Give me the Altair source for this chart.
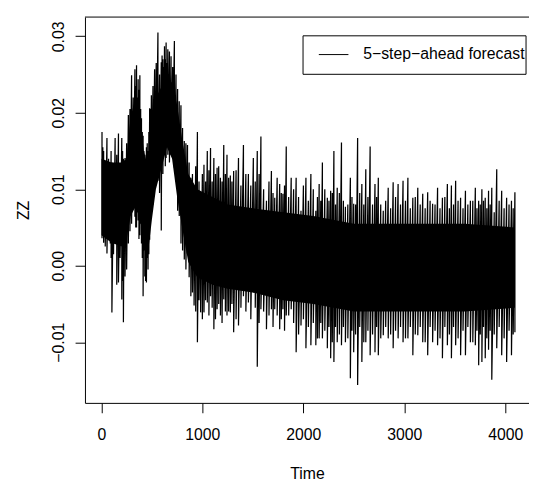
import altair as alt
import pandas as pd

# ---- data (values of ZZ) ----
# main spike columns: extreme high / low read around each time
col_time = [6, 22, 55, 88, 104, 136, 169, 202, 218, 234, 267, 299, 332, 348, 364, 381, 397, 413, 430, 446,
            462, 478, 495, 527, 560, 593, 609, 625, 641, 658, 690, 723, 755, 788, 821, 853, 886, 918, 951, 983,
            1016, 1049, 1081, 1114, 1146, 1179, 1212,
            1244, 1277, 1310, 1358, 1407, 1456, 1505, 1544, 1580, 1635, 1684, 1717, 1766, 1798, 1831, 1880, 1929,
            1977, 2026, 2075, 2124, 2157, 2189, 2238, 2271, 2303, 2336, 2378, 2417, 2466, 2499, 2538, 2580, 2619,
            2662, 2710,
            2743, 2792, 2841, 2890, 2939, 2988, 3036, 3085, 3134, 3183, 3232, 3281, 3330, 3378, 3427, 3467, 3509,
            3558, 3606, 3655, 3704, 3737, 3769, 3802, 3835, 3867, 3916, 3965, 4014, 4062, 4096]

col_high = [0.0175, 0.0150, 0.0167, 0.0128, 0.0135, 0.0167, 0.0173, 0.0167, 0.0140, 0.0141, 0.0197, 0.0249,
            0.0257, 0.0262, 0.0244, 0.0249, 0.0193, 0.0170, 0.0145, 0.0155, 0.0150, 0.0206, 0.0223, 0.0257,
            0.0305, 0.0266, 0.0270, 0.0287, 0.0292, 0.0283, 0.0274, 0.0294, 0.0231, 0.0210, 0.0163, 0.0158,
            0.0115, 0.0102, 0.0175, 0.0094, 0.0132, 0.0150, 0.0154, 0.0141, 0.0128, 0.0115, 0.0158,
            0.0145, 0.0118, 0.0124, 0.0141, 0.0158, 0.0120, 0.0141, 0.0150, 0.0169, 0.0085, 0.0124, 0.0089,
            0.0107, 0.0094, 0.0156, 0.0115, 0.0115, 0.0072, 0.0115, 0.0120, 0.0072, 0.0107, 0.0135, 0.0089,
            0.0098, 0.0150, 0.0102, 0.0161, 0.0077, 0.0115, 0.0081, 0.0167, 0.0107, 0.0126, 0.0156, 0.0107,
            0.0115, 0.0072, 0.0102, 0.0109, 0.0107, 0.0111, 0.0115, 0.0089, 0.0102, 0.0094, 0.0096, 0.0081,
            0.0102, 0.0089, 0.0107, 0.0105, 0.0111, 0.0089, 0.0098, 0.0085, 0.0102, 0.0085, 0.0100, 0.0089,
            0.0098, 0.0102, 0.0126, 0.0098, 0.0089, 0.0085, 0.0096]

col_low = [0.0036, 0.0030, 0.0016, 0.0029, -0.0061, 0.0029, -0.0022, -0.0044, -0.0074, -0.0014, 0.0029, 0.0055,
           0.0064, 0.0050, 0.0059, 0.0040, 0.0029, -0.0040, -0.0014, -0.0022, -0.0005, 0.0034, 0.0089, 0.0102,
           0.0111, 0.0046, 0.0120, 0.0145, 0.0141, 0.0145, 0.0145, 0.0128, 0.0072, 0.0029, 0.0008, 0.0016,
           -0.0040, -0.0052, -0.0100, -0.0061, -0.0061, -0.0048, -0.0040, -0.0083, -0.0057, -0.0065, -0.0044,
           -0.0065, -0.0061, -0.0087, -0.0078, -0.0040, -0.0048, -0.0035, -0.0132, -0.0057, -0.0083, -0.0057,
           -0.0057, -0.0083, -0.0057, -0.0065, -0.0057, -0.0113, -0.0078, -0.0108, -0.0104, -0.0104, -0.0095,
           -0.0095, -0.0108, -0.0121, -0.0126, -0.0100, -0.0104, -0.0100, -0.0147, -0.0113, -0.0156, -0.0126,
           -0.0100, -0.0117, -0.0113,
           -0.0117, -0.0091, -0.0095, -0.0108, -0.0095, -0.0100, -0.0095, -0.0117, -0.0091, -0.0100, -0.0117,
           -0.0100, -0.0104, -0.0121, -0.0104, -0.0121, -0.0104, -0.0117, -0.0117, -0.0100, -0.0104, -0.0130,
           -0.0126, -0.0121, -0.0110, -0.0149, -0.0108, -0.0117, -0.0126, -0.0117, -0.0087]

# secondary (shorter) spikes between the main ones, just outside the dense core
mid_time = [14, 38, 71, 96, 120, 152, 185, 210, 226, 250, 283, 315, 340, 356, 372, 389, 405, 421, 438, 454,
            470, 486, 511, 543, 576, 601, 617, 633, 649, 674, 706, 739, 771, 804, 837, 869, 902, 934, 967, 1000,
            1032, 1065, 1097, 1130, 1162, 1195, 1228,
            1260, 1293, 1334, 1382, 1431, 1480, 1524, 1562, 1607, 1660, 1700, 1741, 1782, 1814, 1855, 1904, 1953,
            2001, 2050, 2099, 2140, 2173, 2213, 2254, 2287, 2319, 2357, 2397, 2441, 2482, 2518, 2559, 2599, 2640,
            2686, 2726,
            2767, 2816, 2865, 2914, 2963, 3012, 3060, 3109, 3158, 3207, 3256, 3305, 3354, 3402, 3447, 3488, 3533,
            3582, 3630, 3679, 3720, 3753, 3785, 3818, 3851, 3891, 3940, 3989, 4038, 4079]

mid_high = [0.0155, 0.0135, 0.0140, 0.0150, 0.0125, 0.0145, 0.0130, 0.0150, 0.0125, 0.0160, 0.0205, 0.0220,
            0.0235, 0.0220, 0.0230, 0.0205, 0.0175, 0.0150, 0.0130, 0.0160, 0.0175, 0.0205, 0.0235, 0.0265,
            0.0250, 0.0275, 0.0260, 0.0270, 0.0265, 0.0280, 0.0260, 0.0250, 0.0215, 0.0180, 0.0160, 0.0135,
            0.0120, 0.0130, 0.0110, 0.0120, 0.0110, 0.0125, 0.0110, 0.0120, 0.0130, 0.0110, 0.0120,
            0.0115, 0.0110, 0.0125, 0.0105, 0.0120, 0.0105, 0.0110, 0.0120, 0.0100, 0.0110, 0.0095, 0.0115,
            0.0095, 0.0105, 0.0090, 0.0100, 0.0090, 0.0105, 0.0085, 0.0100, 0.0090, 0.0085, 0.0100, 0.0085,
            0.0095, 0.0080, 0.0095, 0.0085, 0.0080, 0.0090, 0.0080, 0.0095, 0.0080, 0.0090, 0.0080, 0.0090,
            0.0080, 0.0085, 0.0075, 0.0090, 0.0080, 0.0085, 0.0075, 0.0090, 0.0080, 0.0075, 0.0085, 0.0080,
            0.0075, 0.0090, 0.0075, 0.0080, 0.0085, 0.0075, 0.0080, 0.0085, 0.0075, 0.0080, 0.0085, 0.0075,
            0.0080, 0.0070, 0.0085, 0.0075, 0.0080, 0.0075]

mid_low = [0.0050, 0.0025, 0.0040, 0.0010, 0.0015, -0.0025, 0.0010, -0.0020, 0.0020, -0.0005, 0.0045, 0.0075,
           0.0050, 0.0080, 0.0035, 0.0055, 0.0010, 0.0020, -0.0020, 0.0010, 0.0015, 0.0070, 0.0080, 0.0125,
           0.0095, 0.0140, 0.0160, 0.0130, 0.0165, 0.0135, 0.0155, 0.0110, 0.0065, 0.0020, -0.0005, -0.0015,
           -0.0035, -0.0060, -0.0045, -0.0070, -0.0045, -0.0065, -0.0055, -0.0070, -0.0050, -0.0075, -0.0060,
           -0.0060, -0.0050, -0.0070, -0.0055, -0.0060, -0.0070, -0.0055, -0.0075, -0.0060, -0.0065, -0.0080,
           -0.0065, -0.0070, -0.0085, -0.0065, -0.0075, -0.0090, -0.0070, -0.0080, -0.0075, -0.0095, -0.0075,
           -0.0085, -0.0080, -0.0100, -0.0080, -0.0090, -0.0080, -0.0095, -0.0085, -0.0090, -0.0080, -0.0100,
           -0.0085, -0.0090, -0.0080,
           -0.0095, -0.0080, -0.0090, -0.0085, -0.0080, -0.0095, -0.0080, -0.0090, -0.0080, -0.0100, -0.0080,
           -0.0085, -0.0095, -0.0080, -0.0090, -0.0080, -0.0095, -0.0085, -0.0080, -0.0100, -0.0085, -0.0090,
           -0.0080, -0.0095, -0.0085, -0.0090, -0.0080, -0.0095, -0.0085, -0.0090]

# innermost solid part of the band
core_time = [1, 100, 200, 250, 290, 330, 380, 420, 460, 500, 540, 600, 650, 700, 750, 800, 860, 950, 1100,
             1250, 1500, 1800, 2100, 2500, 2800, 3200, 3600, 4096]
core_high = [0.0140, 0.0135, 0.0135, 0.0140, 0.0195, 0.0215, 0.0205, 0.0150, 0.0130, 0.0175, 0.0220, 0.0235,
             0.0240, 0.0240, 0.0210, 0.0165, 0.0120, 0.0100, 0.0090, 0.0080, 0.0075, 0.0070, 0.0065, 0.0055,
             0.0055, 0.0055, 0.0055, 0.0050]
core_low = [0.0040, 0.0030, 0.0025, 0.0035, 0.0065, 0.0075, 0.0065, 0.0025, 0.0015, 0.0060, 0.0100, 0.0130,
            0.0155, 0.0140, 0.0090, 0.0050, 0.0005, -0.0015, -0.0025, -0.0030, -0.0035, -0.0045, -0.0050,
            -0.0060, -0.0060, -0.0060, -0.0060, -0.0055]

x_ticks = [0, 1000, 2000, 3000, 4000]
y_ticks = [-0.01, 0.0, 0.01, 0.02, 0.03]
legend_label = "5\u2212step\u2212ahead forecast"

columns = sorted(list(zip(col_time, col_high, col_low)) + list(zip(mid_time, mid_high, mid_low)))
rows = []
for k, (t, h, l) in enumerate(columns):
    rows.append({"Time": t, "ZZ": h, "idx": 2 * k})
    rows.append({"Time": t, "ZZ": l, "idx": 2 * k + 1})
line_df = pd.DataFrame(rows)
core_df = pd.DataFrame({"Time": core_time, "lo": core_low, "hi": core_high})
one = pd.DataFrame({"a": [0]})

W, H = 450, 391
FONT = "Liberation Sans"

xscale = alt.Scale(domain=[-162.8, 4235.6], nice=False, zero=False)
yscale = alt.Scale(domain=[-0.017935, 0.032516], nice=False, zero=False)

xaxis = alt.Axis(values=x_ticks, format="d", title="Time", grid=False,
                 domainColor="black", domainWidth=1, tickColor="black", tickSize=10, tickWidth=1,
                 labelFont=FONT, labelFontSize=16, labelColor="black", labelPadding=14,
                 labelBaseline="top", labelFlush=False, labelOverlap=False,
                 titleFont=FONT, titleFontSize=16, titleFontWeight="normal", titleColor="black",
                 titleX=W / 2, titleY=76.5, titleAlign="center", titleBaseline="alphabetic")
yaxis = alt.Axis(values=y_ticks, format=".2f", title="ZZ", grid=False,
                 domainColor="black", domainWidth=1, tickColor="black", tickSize=10, tickWidth=1,
                 labelFont=FONT, labelFontSize=16, labelColor="black", labelPadding=11.5,
                 labelAngle=270, labelAlign="center", labelBaseline="alphabetic",
                 labelFlush=False, labelOverlap=False,
                 titleFont=FONT, titleFontSize=16, titleFontWeight="normal", titleColor="black",
                 titleAngle=270, titleX=-62, titleY=H / 2, titleAlign="center", titleBaseline="middle")

X = alt.X("Time:Q", scale=xscale, axis=xaxis)

core = alt.Chart(core_df).mark_area(color="black", interpolate="linear").encode(
    x=X, y=alt.Y("lo:Q", scale=yscale, axis=yaxis), y2="hi:Q")

series = alt.Chart(line_df).mark_line(color="black", strokeWidth=1.25).encode(
    x=X, y=alt.Y("ZZ:Q", scale=yscale, axis=yaxis), order="idx:Q")

top_border = alt.Chart(one).mark_rule(color="black", strokeWidth=1).encode(
    x=alt.value(0), x2=alt.value(W), y=alt.value(0))

legend_box = alt.Chart(one).mark_rect(fill="white", stroke="black", strokeWidth=1).encode(
    x=alt.value(221), x2=alt.value(447), y=alt.value(19), y2=alt.value(58))
legend_line = alt.Chart(one).mark_rule(color="black", strokeWidth=1).encode(
    x=alt.value(237), x2=alt.value(267), y=alt.value(38))
legend_text = alt.Chart(one).mark_text(text=legend_label, font=FONT, fontSize=16, color="black",
                                       align="left", baseline="middle").encode(
    x=alt.value(282), y=alt.value(38))

chart = alt.layer(core, series, top_border, legend_box, legend_line, legend_text).properties(
    width=W, height=H,
    padding={"left": 78, "top": 6, "right": 0, "bottom": 78},
    autosize=alt.AutoSizeParams(type="none"),
    background="white",
).configure_view(stroke=None)

chart.save("out.html", embed_options={"renderer": "svg", "actions": False})
